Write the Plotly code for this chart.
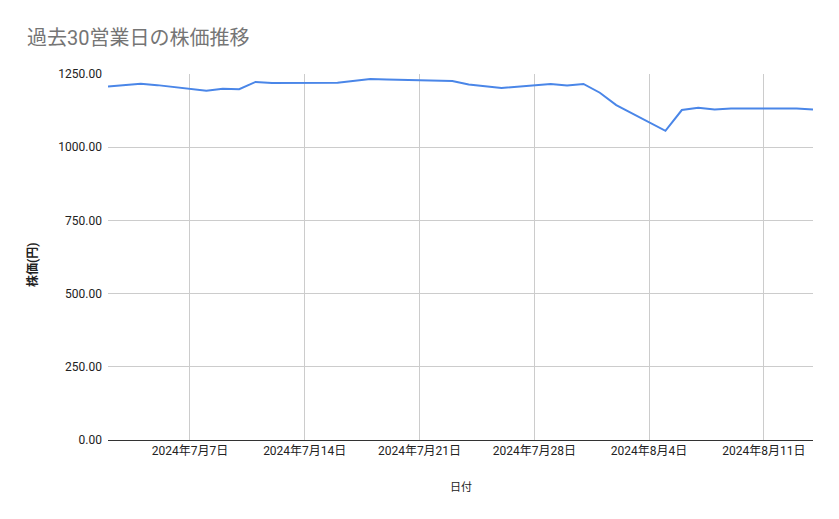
import plotly.graph_objects as go

# 過去30営業日の終値（円）
dates = [
    "2024-07-02", "2024-07-03", "2024-07-04", "2024-07-05",
    "2024-07-08", "2024-07-09", "2024-07-10", "2024-07-11", "2024-07-12",
    "2024-07-16", "2024-07-17", "2024-07-18", "2024-07-19",
    "2024-07-22", "2024-07-23", "2024-07-24", "2024-07-25", "2024-07-26",
    "2024-07-29", "2024-07-30", "2024-07-31", "2024-08-01", "2024-08-02",
    "2024-08-05", "2024-08-06", "2024-08-07", "2024-08-08", "2024-08-09",
    "2024-08-13", "2024-08-14",
]
prices = [
    1207, 1211, 1217, 1212,
    1193, 1200, 1198, 1223, 1219,
    1220, 1226, 1233, 1231,
    1228, 1226, 1214, 1209, 1202,
    1216, 1211, 1216, 1186, 1144,
    1056, 1127, 1135, 1129, 1132,
    1132, 1129,
]
y_ticks = [0, 250, 500, 750, 1000, 1250]

FONT = "Roboto, Noto Sans CJK JP, sans-serif"

fig = go.Figure()
fig.add_trace(go.Scatter(
    x=dates, y=prices, mode="lines",
    line=dict(color="#4a86e8", width=2),
    name="株価",
))

# the page body has an 8px margin, so the figure is a bit smaller than the window
fig.update_layout(
    width=823, height=503,
    margin=dict(l=100, r=18, t=66, b=71),
    paper_bgcolor="white", plot_bgcolor="white",
    showlegend=False,
    font=dict(family=FONT, size=12, color="#222222"),
    title=dict(
        text="過去30営業日の株価推移",
        x=0.023, xanchor="left", y=0.94, yanchor="middle",
        font=dict(family=FONT, size=20, color="#757575"),
    ),
)

fig.update_xaxes(
    type="date",
    range=["2024-07-02", "2024-08-14"],
    tick0="2024-07-07", dtick=7 * 86400000,
    tickformat="%Y年%-m月%-d日",
    showgrid=True, gridcolor="#cccccc", gridwidth=1,
    showline=True, linecolor="#333333", linewidth=1,
    ticks="", zeroline=False,
    tickfont=dict(size=12, color="#222222"),
)

fig.update_yaxes(
    range=[0, 1250],
    tickvals=y_ticks,
    tickformat=".2f",
    showgrid=True, gridcolor="#cccccc", gridwidth=1,
    zeroline=False, showline=False, ticks="",
    ticklabelstandoff=5,
    tickfont=dict(size=12, color="#222222"),
)

fig.add_annotation(
    text="日付", xref="paper", yref="paper", x=0.5, y=0,
    xanchor="center", yanchor="middle", yshift=-47, showarrow=False,
    font=dict(size=11, color="#222222"),
)
fig.add_annotation(
    text="<b>株価(円)</b>", xref="paper", yref="paper", x=0, y=0.478,
    xanchor="center", yanchor="middle", xshift=-76, textangle=-90,
    showarrow=False, font=dict(size=12, color="#222222"),
)

fig.write_html("out.html")
